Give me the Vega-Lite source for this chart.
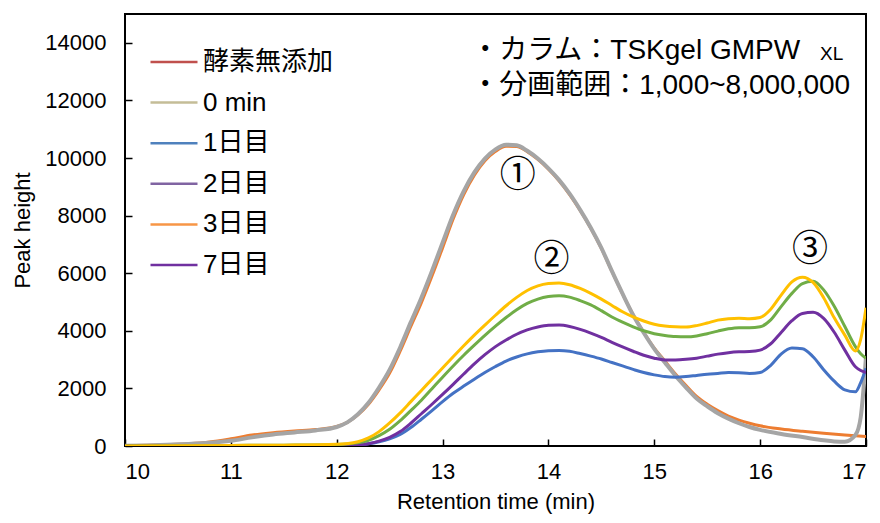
{
  "$schema": "https://vega.github.io/schema/vega-lite/v6.json",
  "width": 741,
  "height": 432,
  "autosize": {"type": "none"},
  "padding": {"left": 125, "top": 14, "right": 14, "bottom": 77},
  "background": "#ffffff",
  "config": {
    "view": {"stroke": "#000000", "strokeWidth": 2},
    "font": "Liberation Sans, Noto Sans CJK JP",
    "axis": {
      "domain": false,
      "grid": false,
      "ticks": true,
      "tickColor": "#000000",
      "tickWidth": 1.5,
      "tickSize": -7,
      "labelFont": "Liberation Sans",
      "labelFontSize": 22,
      "labelColor": "#000000",
      "titleFont": "Liberation Sans",
      "titleFontSize": 22,
      "titleFontWeight": "normal",
      "titleColor": "#000000"
    },
    "legend": {
      "title": null,
      "orient": "none",
      "legendX": 24,
      "legendY": 23,
      "symbolType": "stroke",
      "symbolSize": 2209,
      "symbolStrokeWidth": 2.5,
      "labelFont": "Liberation Sans, Noto Sans CJK JP",
      "labelFontSize": 26,
      "labelColor": "#000000",
      "labelOffset": 4,
      "rowPadding": 2.6
    }
  },
  "resolve": {"scale": {"color": "independent"}, "legend": {"color": "independent"}},
  "data": {
    "values": [
      {"s": "酵素無添加", "t": 10.0, "v": 10}, {"s": "酵素無添加", "t": 10.2, "v": 30}, {"s": "酵素無添加", "t": 10.4, "v": 50}, {"s": "酵素無添加", "t": 10.6, "v": 80}, {"s": "酵素無添加", "t": 10.8, "v": 140}, {"s": "酵素無添加", "t": 11.0, "v": 250}, {"s": "酵素無添加", "t": 11.2, "v": 380}, {"s": "酵素無添加", "t": 11.4, "v": 460}, {"s": "酵素無添加", "t": 11.6, "v": 520}, {"s": "酵素無添加", "t": 11.8, "v": 570}, {"s": "酵素無添加", "t": 12.0, "v": 680}, {"s": "酵素無添加", "t": 12.1, "v": 820}, {"s": "酵素無添加", "t": 12.2, "v": 1080}, {"s": "酵素無添加", "t": 12.3, "v": 1450}, {"s": "酵素無添加", "t": 12.4, "v": 1950}, {"s": "酵素無添加", "t": 12.5, "v": 2530}, {"s": "酵素無添加", "t": 12.6, "v": 3300}, {"s": "酵素無添加", "t": 12.7, "v": 4150}, {"s": "酵素無添加", "t": 12.8, "v": 4980}, {"s": "酵素無添加", "t": 12.9, "v": 5900}, {"s": "酵素無添加", "t": 13.0, "v": 6880}, {"s": "酵素無添加", "t": 13.1, "v": 7880}, {"s": "酵素無添加", "t": 13.2, "v": 8730}, {"s": "酵素無添加", "t": 13.3, "v": 9400}, {"s": "酵素無添加", "t": 13.4, "v": 9900}, {"s": "酵素無添加", "t": 13.5, "v": 10230}, {"s": "酵素無添加", "t": 13.6, "v": 10410}, {"s": "酵素無添加", "t": 13.7, "v": 10400}, {"s": "酵素無添加", "t": 13.8, "v": 10220}, {"s": "酵素無添加", "t": 13.9, "v": 9950}, {"s": "酵素無添加", "t": 14.0, "v": 9610}, {"s": "酵素無添加", "t": 14.1, "v": 9210}, {"s": "酵素無添加", "t": 14.2, "v": 8730}, {"s": "酵素無添加", "t": 14.3, "v": 8180}, {"s": "酵素無添加", "t": 14.4, "v": 7560}, {"s": "酵素無添加", "t": 14.5, "v": 6860}, {"s": "酵素無添加", "t": 14.6, "v": 6060}, {"s": "酵素無添加", "t": 14.7, "v": 5280}, {"s": "酵素無添加", "t": 14.8, "v": 4560}, {"s": "酵素無添加", "t": 14.9, "v": 3950}, {"s": "酵素無添加", "t": 15.0, "v": 3400}, {"s": "酵素無添加", "t": 15.1, "v": 2950}, {"s": "酵素無添加", "t": 15.2, "v": 2500}, {"s": "酵素無添加", "t": 15.3, "v": 2100}, {"s": "酵素無添加", "t": 15.4, "v": 1720}, {"s": "酵素無添加", "t": 15.5, "v": 1450}, {"s": "酵素無添加", "t": 15.6, "v": 1230}, {"s": "酵素無添加", "t": 15.7, "v": 1040}, {"s": "酵素無添加", "t": 15.8, "v": 900}, {"s": "酵素無添加", "t": 15.9, "v": 790}, {"s": "酵素無添加", "t": 16.0, "v": 700}, {"s": "酵素無添加", "t": 16.2, "v": 590}, {"s": "酵素無添加", "t": 16.4, "v": 510}, {"s": "酵素無添加", "t": 16.6, "v": 440}, {"s": "酵素無添加", "t": 16.8, "v": 380}, {"s": "酵素無添加", "t": 17.0, "v": 330},

      {"s": "0 min", "t": 10.0, "v": 10}, {"s": "0 min", "t": 10.2, "v": 20}, {"s": "0 min", "t": 10.4, "v": 40}, {"s": "0 min", "t": 10.6, "v": 70}, {"s": "0 min", "t": 10.8, "v": 110}, {"s": "0 min", "t": 11.0, "v": 180}, {"s": "0 min", "t": 11.2, "v": 300}, {"s": "0 min", "t": 11.4, "v": 400}, {"s": "0 min", "t": 11.6, "v": 470}, {"s": "0 min", "t": 11.8, "v": 540}, {"s": "0 min", "t": 12.0, "v": 660}, {"s": "0 min", "t": 12.1, "v": 820}, {"s": "0 min", "t": 12.2, "v": 1100}, {"s": "0 min", "t": 12.3, "v": 1500}, {"s": "0 min", "t": 12.4, "v": 2030}, {"s": "0 min", "t": 12.5, "v": 2650}, {"s": "0 min", "t": 12.6, "v": 3430}, {"s": "0 min", "t": 12.7, "v": 4300}, {"s": "0 min", "t": 12.8, "v": 5150}, {"s": "0 min", "t": 12.9, "v": 6080}, {"s": "0 min", "t": 13.0, "v": 7060}, {"s": "0 min", "t": 13.1, "v": 8030}, {"s": "0 min", "t": 13.2, "v": 8850}, {"s": "0 min", "t": 13.3, "v": 9500}, {"s": "0 min", "t": 13.4, "v": 9980}, {"s": "0 min", "t": 13.5, "v": 10300}, {"s": "0 min", "t": 13.6, "v": 10460}, {"s": "0 min", "t": 13.7, "v": 10440}, {"s": "0 min", "t": 13.8, "v": 10250}, {"s": "0 min", "t": 13.9, "v": 9980}, {"s": "0 min", "t": 14.0, "v": 9640}, {"s": "0 min", "t": 14.1, "v": 9240}, {"s": "0 min", "t": 14.2, "v": 8760}, {"s": "0 min", "t": 14.3, "v": 8200}, {"s": "0 min", "t": 14.4, "v": 7580}, {"s": "0 min", "t": 14.5, "v": 6880}, {"s": "0 min", "t": 14.6, "v": 6070}, {"s": "0 min", "t": 14.7, "v": 5290}, {"s": "0 min", "t": 14.8, "v": 4550}, {"s": "0 min", "t": 14.9, "v": 3930}, {"s": "0 min", "t": 15.0, "v": 3370}, {"s": "0 min", "t": 15.1, "v": 2900}, {"s": "0 min", "t": 15.2, "v": 2440}, {"s": "0 min", "t": 15.3, "v": 2030}, {"s": "0 min", "t": 15.4, "v": 1650}, {"s": "0 min", "t": 15.5, "v": 1380}, {"s": "0 min", "t": 15.6, "v": 1140}, {"s": "0 min", "t": 15.7, "v": 950}, {"s": "0 min", "t": 15.8, "v": 790}, {"s": "0 min", "t": 15.9, "v": 660}, {"s": "0 min", "t": 16.0, "v": 560}, {"s": "0 min", "t": 16.2, "v": 420}, {"s": "0 min", "t": 16.4, "v": 310}, {"s": "0 min", "t": 16.6, "v": 200}, {"s": "0 min", "t": 16.7, "v": 160}, {"s": "0 min", "t": 16.8, "v": 150}, {"s": "0 min", "t": 16.9, "v": 380}, {"s": "0 min", "t": 16.95, "v": 1000}, {"s": "0 min", "t": 17.0, "v": 3100},

      {"s": "1日目", "t": 10.0, "v": 0}, {"s": "1日目", "t": 11.0, "v": 0}, {"s": "1日目", "t": 12.0, "v": 10}, {"s": "1日目", "t": 12.2, "v": 40}, {"s": "1日目", "t": 12.3, "v": 80}, {"s": "1日目", "t": 12.4, "v": 150}, {"s": "1日目", "t": 12.5, "v": 250}, {"s": "1日目", "t": 12.6, "v": 400}, {"s": "1日目", "t": 12.7, "v": 640}, {"s": "1日目", "t": 12.8, "v": 930}, {"s": "1日目", "t": 12.9, "v": 1230}, {"s": "1日目", "t": 13.0, "v": 1540}, {"s": "1日目", "t": 13.1, "v": 1830}, {"s": "1日目", "t": 13.2, "v": 2080}, {"s": "1日目", "t": 13.3, "v": 2320}, {"s": "1日目", "t": 13.4, "v": 2550}, {"s": "1日目", "t": 13.5, "v": 2760}, {"s": "1日目", "t": 13.6, "v": 2950}, {"s": "1日目", "t": 13.7, "v": 3090}, {"s": "1日目", "t": 13.8, "v": 3200}, {"s": "1日目", "t": 13.9, "v": 3270}, {"s": "1日目", "t": 14.0, "v": 3310}, {"s": "1日目", "t": 14.1, "v": 3320}, {"s": "1日目", "t": 14.2, "v": 3290}, {"s": "1日目", "t": 14.3, "v": 3210}, {"s": "1日目", "t": 14.4, "v": 3120}, {"s": "1日目", "t": 14.5, "v": 3020}, {"s": "1日目", "t": 14.6, "v": 2900}, {"s": "1日目", "t": 14.7, "v": 2780}, {"s": "1日目", "t": 14.8, "v": 2660}, {"s": "1日目", "t": 14.9, "v": 2550}, {"s": "1日目", "t": 15.0, "v": 2470}, {"s": "1日目", "t": 15.1, "v": 2410}, {"s": "1日目", "t": 15.2, "v": 2390}, {"s": "1日目", "t": 15.3, "v": 2410}, {"s": "1日目", "t": 15.4, "v": 2450}, {"s": "1日目", "t": 15.5, "v": 2490}, {"s": "1日目", "t": 15.6, "v": 2520}, {"s": "1日目", "t": 15.7, "v": 2550}, {"s": "1日目", "t": 15.8, "v": 2540}, {"s": "1日目", "t": 15.9, "v": 2520}, {"s": "1日目", "t": 16.0, "v": 2550}, {"s": "1日目", "t": 16.1, "v": 2800}, {"s": "1日目", "t": 16.2, "v": 3200}, {"s": "1日目", "t": 16.3, "v": 3400}, {"s": "1日目", "t": 16.4, "v": 3380}, {"s": "1日目", "t": 16.5, "v": 3100}, {"s": "1日目", "t": 16.6, "v": 2650}, {"s": "1日目", "t": 16.7, "v": 2250}, {"s": "1日目", "t": 16.8, "v": 1950}, {"s": "1日目", "t": 16.9, "v": 1880}, {"s": "1日目", "t": 16.95, "v": 2200}, {"s": "1日目", "t": 17.0, "v": 2700},

      {"s": "7日目", "t": 10.0, "v": 0}, {"s": "7日目", "t": 11.0, "v": 0}, {"s": "7日目", "t": 12.0, "v": 10}, {"s": "7日目", "t": 12.2, "v": 40}, {"s": "7日目", "t": 12.3, "v": 80}, {"s": "7日目", "t": 12.4, "v": 170}, {"s": "7日目", "t": 12.5, "v": 300}, {"s": "7日目", "t": 12.6, "v": 500}, {"s": "7日目", "t": 12.7, "v": 790}, {"s": "7日目", "t": 12.8, "v": 1120}, {"s": "7日目", "t": 12.9, "v": 1450}, {"s": "7日目", "t": 13.0, "v": 1790}, {"s": "7日目", "t": 13.1, "v": 2140}, {"s": "7日目", "t": 13.2, "v": 2500}, {"s": "7日目", "t": 13.3, "v": 2850}, {"s": "7日目", "t": 13.4, "v": 3170}, {"s": "7日目", "t": 13.5, "v": 3450}, {"s": "7日目", "t": 13.6, "v": 3680}, {"s": "7日目", "t": 13.7, "v": 3880}, {"s": "7日目", "t": 13.8, "v": 4030}, {"s": "7日目", "t": 13.9, "v": 4130}, {"s": "7日目", "t": 14.0, "v": 4190}, {"s": "7日目", "t": 14.1, "v": 4200}, {"s": "7日目", "t": 14.2, "v": 4150}, {"s": "7日目", "t": 14.3, "v": 4050}, {"s": "7日目", "t": 14.4, "v": 3920}, {"s": "7日目", "t": 14.5, "v": 3770}, {"s": "7日目", "t": 14.6, "v": 3600}, {"s": "7日目", "t": 14.7, "v": 3440}, {"s": "7日目", "t": 14.8, "v": 3290}, {"s": "7日目", "t": 14.9, "v": 3150}, {"s": "7日目", "t": 15.0, "v": 3050}, {"s": "7日目", "t": 15.1, "v": 2990}, {"s": "7日目", "t": 15.2, "v": 2990}, {"s": "7日目", "t": 15.3, "v": 3010}, {"s": "7日目", "t": 15.4, "v": 3050}, {"s": "7日目", "t": 15.5, "v": 3120}, {"s": "7日目", "t": 15.6, "v": 3190}, {"s": "7日目", "t": 15.7, "v": 3240}, {"s": "7日目", "t": 15.8, "v": 3270}, {"s": "7日目", "t": 15.9, "v": 3280}, {"s": "7日目", "t": 16.0, "v": 3330}, {"s": "7日目", "t": 16.1, "v": 3550}, {"s": "7日目", "t": 16.2, "v": 3950}, {"s": "7日目", "t": 16.3, "v": 4350}, {"s": "7日目", "t": 16.4, "v": 4600}, {"s": "7日目", "t": 16.5, "v": 4640}, {"s": "7日目", "t": 16.6, "v": 4430}, {"s": "7日目", "t": 16.7, "v": 3950}, {"s": "7日目", "t": 16.8, "v": 3330}, {"s": "7日目", "t": 16.9, "v": 2750}, {"s": "7日目", "t": 16.95, "v": 2620}, {"s": "7日目", "t": 17.0, "v": 2550},

      {"s": "2日目", "t": 10.0, "v": 0}, {"s": "2日目", "t": 11.0, "v": 20}, {"s": "2日目", "t": 11.5, "v": 30}, {"s": "2日目", "t": 12.0, "v": 50}, {"s": "2日目", "t": 12.2, "v": 110}, {"s": "2日目", "t": 12.3, "v": 200}, {"s": "2日目", "t": 12.4, "v": 360}, {"s": "2日目", "t": 12.5, "v": 580}, {"s": "2日目", "t": 12.6, "v": 880}, {"s": "2日目", "t": 12.7, "v": 1230}, {"s": "2日目", "t": 12.8, "v": 1590}, {"s": "2日目", "t": 12.9, "v": 1990}, {"s": "2日目", "t": 13.0, "v": 2390}, {"s": "2日目", "t": 13.1, "v": 2780}, {"s": "2日目", "t": 13.2, "v": 3150}, {"s": "2日目", "t": 13.3, "v": 3500}, {"s": "2日目", "t": 13.4, "v": 3840}, {"s": "2日目", "t": 13.5, "v": 4160}, {"s": "2日目", "t": 13.6, "v": 4460}, {"s": "2日目", "t": 13.7, "v": 4730}, {"s": "2日目", "t": 13.8, "v": 4950}, {"s": "2日目", "t": 13.9, "v": 5100}, {"s": "2日目", "t": 14.0, "v": 5190}, {"s": "2日目", "t": 14.1, "v": 5220}, {"s": "2日目", "t": 14.2, "v": 5170}, {"s": "2日目", "t": 14.3, "v": 5050}, {"s": "2日目", "t": 14.4, "v": 4900}, {"s": "2日目", "t": 14.5, "v": 4700}, {"s": "2日目", "t": 14.6, "v": 4480}, {"s": "2日目", "t": 14.7, "v": 4300}, {"s": "2日目", "t": 14.8, "v": 4140}, {"s": "2日目", "t": 14.9, "v": 4000}, {"s": "2日目", "t": 15.0, "v": 3900}, {"s": "2日目", "t": 15.1, "v": 3840}, {"s": "2日目", "t": 15.2, "v": 3800}, {"s": "2日目", "t": 15.3, "v": 3790}, {"s": "2日目", "t": 15.4, "v": 3820}, {"s": "2日目", "t": 15.5, "v": 3900}, {"s": "2日目", "t": 15.6, "v": 3990}, {"s": "2日目", "t": 15.7, "v": 4070}, {"s": "2日目", "t": 15.8, "v": 4110}, {"s": "2日目", "t": 15.9, "v": 4110}, {"s": "2日目", "t": 16.0, "v": 4140}, {"s": "2日目", "t": 16.1, "v": 4380}, {"s": "2日目", "t": 16.2, "v": 4850}, {"s": "2日目", "t": 16.3, "v": 5300}, {"s": "2日目", "t": 16.4, "v": 5640}, {"s": "2日目", "t": 16.5, "v": 5720}, {"s": "2日目", "t": 16.6, "v": 5420}, {"s": "2日目", "t": 16.7, "v": 4850}, {"s": "2日目", "t": 16.8, "v": 4150}, {"s": "2日目", "t": 16.9, "v": 3450}, {"s": "2日目", "t": 16.95, "v": 3200}, {"s": "2日目", "t": 17.0, "v": 3050},

      {"s": "3日目", "t": 10.0, "v": 0}, {"s": "3日目", "t": 11.0, "v": 20}, {"s": "3日目", "t": 11.5, "v": 30}, {"s": "3日目", "t": 12.0, "v": 60}, {"s": "3日目", "t": 12.2, "v": 150}, {"s": "3日目", "t": 12.3, "v": 280}, {"s": "3日目", "t": 12.4, "v": 500}, {"s": "3日目", "t": 12.5, "v": 800}, {"s": "3日目", "t": 12.6, "v": 1150}, {"s": "3日目", "t": 12.7, "v": 1540}, {"s": "3日目", "t": 12.8, "v": 1930}, {"s": "3日目", "t": 12.9, "v": 2320}, {"s": "3日目", "t": 13.0, "v": 2710}, {"s": "3日目", "t": 13.1, "v": 3100}, {"s": "3日目", "t": 13.2, "v": 3480}, {"s": "3日目", "t": 13.3, "v": 3850}, {"s": "3日目", "t": 13.4, "v": 4200}, {"s": "3日目", "t": 13.5, "v": 4540}, {"s": "3日目", "t": 13.6, "v": 4870}, {"s": "3日目", "t": 13.7, "v": 5160}, {"s": "3日目", "t": 13.8, "v": 5400}, {"s": "3日目", "t": 13.9, "v": 5560}, {"s": "3日目", "t": 14.0, "v": 5640}, {"s": "3日目", "t": 14.1, "v": 5660}, {"s": "3日目", "t": 14.2, "v": 5600}, {"s": "3日目", "t": 14.3, "v": 5470}, {"s": "3日目", "t": 14.4, "v": 5300}, {"s": "3日目", "t": 14.5, "v": 5100}, {"s": "3日目", "t": 14.6, "v": 4880}, {"s": "3日目", "t": 14.7, "v": 4660}, {"s": "3日目", "t": 14.8, "v": 4480}, {"s": "3日目", "t": 14.9, "v": 4340}, {"s": "3日目", "t": 15.0, "v": 4230}, {"s": "3日目", "t": 15.1, "v": 4170}, {"s": "3日目", "t": 15.2, "v": 4140}, {"s": "3日目", "t": 15.3, "v": 4130}, {"s": "3日目", "t": 15.4, "v": 4180}, {"s": "3日目", "t": 15.5, "v": 4270}, {"s": "3日目", "t": 15.6, "v": 4370}, {"s": "3日目", "t": 15.7, "v": 4420}, {"s": "3日目", "t": 15.8, "v": 4440}, {"s": "3日目", "t": 15.9, "v": 4420}, {"s": "3日目", "t": 16.0, "v": 4460}, {"s": "3日目", "t": 16.1, "v": 4750}, {"s": "3日目", "t": 16.2, "v": 5250}, {"s": "3日目", "t": 16.3, "v": 5700}, {"s": "3日目", "t": 16.4, "v": 5860}, {"s": "3日目", "t": 16.5, "v": 5680}, {"s": "3日目", "t": 16.6, "v": 5150}, {"s": "3日目", "t": 16.7, "v": 4450}, {"s": "3日目", "t": 16.8, "v": 3850}, {"s": "3日目", "t": 16.9, "v": 3300}, {"s": "3日目", "t": 16.95, "v": 3700}, {"s": "3日目", "t": 17.0, "v": 4800}
    ]
  },
  "encoding": {
    "x": {
      "field": "t",
      "type": "quantitative",
      "scale": {"domain": [10, 17], "nice": false, "zero": false},
      "axis": {"title": "Retention time (min)", "values": [10, 11, 12, 13, 14, 15, 16, 17], "labelPadding": 22, "titlePadding": 9}
    },
    "y": {
      "field": "v",
      "type": "quantitative",
      "scale": {"domain": [0, 15000], "nice": false},
      "axis": {"title": "Peak height", "values": [0, 2000, 4000, 6000, 8000, 10000, 12000, 14000], "format": "d", "labelPadding": 26, "titlePadding": 10}
    }
  },
  "layer": [
    {
      "mark": {"type": "line", "interpolate": "monotone", "clip": true},
      "encoding": {
        "color": {
          "field": "s",
          "type": "nominal",
          "sort": null,
          "scale": {
            "domain": ["酵素無添加", "0 min", "1日目", "2日目", "3日目", "7日目"],
            "range": ["#ED7D31", "#A5A5A5", "#4472C4", "#70AD47", "#FFC000", "#7030A0"]
          },
          "legend": null
        },
        "strokeWidth": {"condition": {"test": "datum.s === '0 min'", "value": 4}, "value": 3}
      }
    },
    {
      "transform": [{"filter": "false"}],
      "mark": {"type": "line"},
      "encoding": {
        "color": {
          "field": "s",
          "type": "nominal",
          "sort": null,
          "scale": {
            "domain": ["酵素無添加", "0 min", "1日目", "2日目", "3日目", "7日目"],
            "range": ["#C0504D", "#C4BD97", "#4F81BD", "#8064A2", "#F79646", "#7030A0"]
          }
        }
      }
    },
    {
      "data": {"values": [
        {"label": "①", "t": 13.71, "v": 9390},
        {"label": "②", "t": 14.03, "v": 6445},
        {"label": "③", "t": 16.47, "v": 6790}
      ]},
      "mark": {"type": "text", "font": "Noto Sans CJK JP", "fontSize": 36, "align": "center", "baseline": "middle", "color": "#000000"},
      "encoding": {"text": {"field": "label"}}
    },
    {
      "data": {"values": [
        {"label": "・カラム：TSKgel GMPW", "t": 13.27, "v": 13720},
        {"label": "・分画範囲：1,000~8,000,000", "t": 13.27, "v": 12510}
      ]},
      "mark": {"type": "text", "font": "Liberation Sans, Noto Sans CJK JP", "fontSize": 28, "align": "left", "baseline": "middle", "color": "#000000"},
      "encoding": {"text": {"field": "label"}}
    },
    {
      "data": {"values": [
        {"label": "XL", "t": 16.565, "v": 13620}
      ]},
      "mark": {"type": "text", "font": "Liberation Sans", "fontSize": 19, "align": "left", "baseline": "middle", "color": "#000000"},
      "encoding": {"text": {"field": "label"}}
    }
  ]
}
